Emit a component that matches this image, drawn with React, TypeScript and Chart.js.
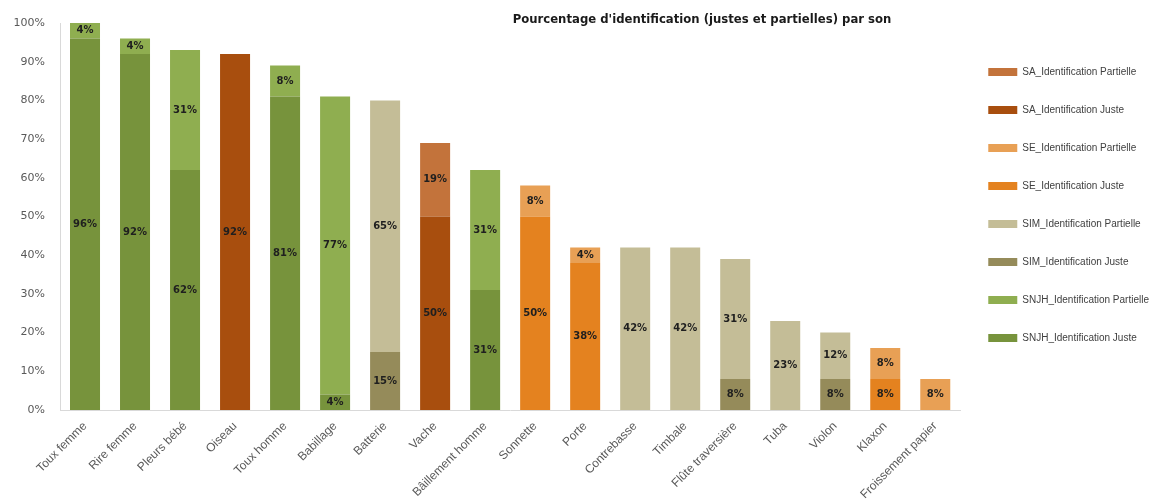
import React, { useEffect, useRef } from "react";
import { Chart, registerables } from "chart.js";

Chart.register(...registerables);

const categories = [
  "Toux femme", "Rire femme", "Pleurs bébé", "Oiseau", "Toux homme", "Babillage",
  "Batterie", "Vache", "Bâillement homme", "Sonnette", "Porte", "Contrebasse",
  "Timbale", "Flûte traversière", "Tuba", "Violon", "Klaxon", "Froissement papier",
];

const snjhJuste =     [96, 92, 62, null, 81, 4, null, null, 31, null, null, null, null, null, null, null, null, null];
const snjhPartielle = [4, 4, 31, null, 8, 77, null, null, 31, null, null, null, null, null, null, null, null, null];
const simJuste =      [null, null, null, null, null, null, 15, null, null, null, null, null, null, 8, null, 8, null, null];
const simPartielle =  [null, null, null, null, null, null, 65, null, null, null, null, 42, 42, 31, 23, 12, null, null];
const seJuste =       [null, null, null, null, null, null, null, null, null, 50, 38, null, null, null, null, null, 8, null];
const sePartielle =   [null, null, null, null, null, null, null, null, null, 8, 4, null, null, null, null, null, 8, 8];
const saJuste =       [null, null, null, 92, null, null, null, 50, null, null, null, null, null, null, null, null, null, null];
const saPartielle =   [null, null, null, null, null, null, null, 19, null, null, null, null, null, null, null, null, null, null];

const yTicks = [0, 10, 20, 30, 40, 50, 60, 70, 80, 90, 100];

const titleText = "Pourcentage d'identification (justes et partielles) par son";

const segLabelPlugin = {
  id: "segLabels",
  afterDatasetsDraw(chart: any) {
    const ctx = chart.ctx;
    ctx.save();
    ctx.font = 'bold 10px "DejaVu Sans", sans-serif';
    ctx.fillStyle = "#1f1f1f";
    ctx.textAlign = "center";
    ctx.textBaseline = "middle";
    chart.data.datasets.forEach((ds: any, di: number) => {
      const meta = chart.getDatasetMeta(di);
      meta.data.forEach((el: any, i: number) => {
        const v = ds.data[i];
        if (v == null || v === 0) return;
        const p = el.getProps(["x", "y", "base"], true);
        ctx.fillText(v + "%", p.x, (p.y + p.base) / 2);
      });
    });
    ctx.restore();
  },
};

const titlePlugin = {
  id: "customTitle",
  afterDraw(chart: any) {
    const ctx = chart.ctx;
    ctx.save();
    const base = 14;
    ctx.font = `bold ${base}px "Liberation Sans Narrow", "DejaVu Sans Condensed", sans-serif`;
    const w = ctx.measureText(titleText).width;
    const size = (base * 379) / w;
    ctx.font = `bold ${size}px "Liberation Sans Narrow", "DejaVu Sans Condensed", sans-serif`;
    ctx.fillStyle = "#1a1a1a";
    ctx.textAlign = "center";
    ctx.textBaseline = "middle";
    ctx.fillText(titleText, 702, 20);
    ctx.restore();
  },
};

export default function App() {
  const ref = useRef<HTMLCanvasElement | null>(null);

  useEffect(() => {
    if (!ref.current) return;
    const mk = (label: string, data: (number | null)[], color: string) => ({
      label,
      data,
      backgroundColor: color,
      borderWidth: 0,
      barPercentage: 0.6,
      categoryPercentage: 1,
    });
    const chart = new Chart(ref.current, {
      type: "bar",
      data: {
        labels: categories,
        datasets: [
          mk("SNJH_Identification Juste", snjhJuste, "#77933C"),
          mk("SNJH_Identification Partielle", snjhPartielle, "#8FAE50"),
          mk("SIM_Identification Juste", simJuste, "#958B5A"),
          mk("SIM_Identification Partielle", simPartielle, "#C4BD97"),
          mk("SE_Identification Juste", seJuste, "#E4821F"),
          mk("SE_Identification Partielle", sePartielle, "#E8A055"),
          mk("SA_Identification Juste", saJuste, "#A84E0E"),
          mk("SA_Identification Partielle", saPartielle, "#C3733B"),
        ],
      },
      options: {
        animation: false,
        responsive: false,
        maintainAspectRatio: false,
        layout: { padding: { top: 23, right: 0, left: 0, bottom: 0 } },
        plugins: {
          title: { display: false },
          tooltip: { enabled: false },
          legend: {
            position: "right",
            align: "start",
            reverse: true,
            title: { display: true, text: "", font: { size: 10 }, padding: 2 },
            labels: {
              boxWidth: 29,
              boxHeight: 8,
              padding: 28,
              color: "#404040",
              font: { size: 10, family: '"Liberation Sans", Arial, sans-serif' },
            },
          },
        },
        scales: {
          x: {
            stacked: true,
            grid: { display: false, drawTicks: false },
            border: { display: true, color: "#d9d9d9", width: 1 },
            ticks: {
              autoSkip: false,
              maxRotation: 45,
              minRotation: 45,
              padding: 9,
              color: "#595959",
              font: { size: 12, family: '"Liberation Sans", Arial, sans-serif' },
            },
            afterFit: (scale: any) => {
              scale.height = 91;
            },
          },
          y: {
            stacked: true,
            min: 0,
            max: 100,
            grid: { display: false, drawTicks: false },
            border: { display: true, color: "#d9d9d9", width: 1 },
            afterBuildTicks: (scale: any) => {
              scale.ticks = yTicks.map((v) => ({ value: v }));
            },
            ticks: {
              padding: 15,
              color: "#595959",
              font: { size: 11, family: '"DejaVu Sans", sans-serif' },
              callback: (v: any) => v + "%",
            },
            afterFit: (scale: any) => {
              scale.width = 60;
            },
          },
        },
      },
      plugins: [segLabelPlugin, titlePlugin],
    });
    return () => chart.destroy();
  }, []);

  return (
    <div style={{ position: "fixed", left: 0, top: 0, width: 1159, height: 501, background: "#fff" }}>
      <canvas ref={ref} width={1159} height={501} />
    </div>
  );
}
